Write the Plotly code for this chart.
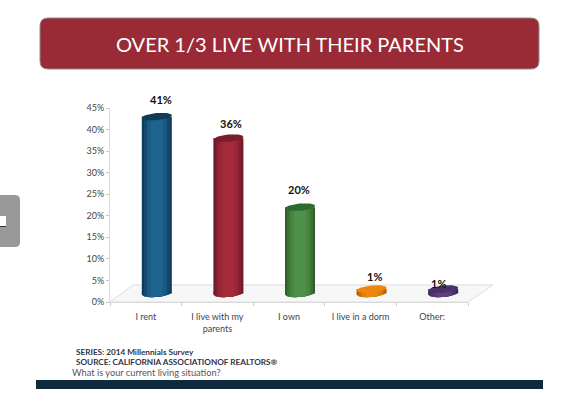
import numpy as np
import plotly.graph_objects as go

W, H = 566, 393
categories = ["I rent", "I live with my<br>parents", "I own", "I live in a dorm", "Other:"]
values = [41, 36, 20, 1, 1]
labels = ["41%", "36%", "20%", "1%", "1%"]
y_ticks = [0, 5, 10, 15, 20, 25, 30, 35, 40, 45]
y_tick_labels = [f"{v}%" for v in y_ticks]
title = "OVER 1/3 LIVE WITH THEIR PARENTS"
notes = ["SERIES: 2014 Millennials Survey", "SOURCE: CALIFORNIA ASSOCIATIONOF REALTORS®"]
question = "What is your current living situation?"

# styling
shades = [
    ["#0d3a58", "#14486e", "#1a5a85", "#1f6391"],
    ["#6e1a27", "#841f2f", "#982636", "#a52a3a"],
    ["#2f5e2a", "#3b7335", "#478540", "#4f9048"],
    ["#b35f00", "#d06f00", "#e07f05", "#e8880f"],
    ["#3a2655", "#4a3169", "#553a78", "#5d4082"],
]
caps = ["#0f3b59", "#7a1c2a", "#2e6a2e", "#ec860e", "#4a3268"]
layer_fracs = [1.0, 0.86, 0.66, 0.4]
label_dx = [4, 3, -1, 3, -5]
label_dy = [17, 15, 18, 13, 6]

L, R, Y0, Y45 = 110, 468, 302, 108
px_per_cat = (R - L) / 5
px_per_pct = (Y0 - Y45) / 45
depth_base = 2          # 3D depth lift of the bars in axis units
depth_x = 11 / px_per_cat
bar_w = 30 / px_per_cat
b_y = 3.6 / px_per_pct
tilt = 1.3 / px_per_pct


def px(x):
    return x / W


def py(y):
    return 1 - y / H


fig = go.Figure()
xs = list(range(len(categories)))

# cylinder bodies: narrowing overlays give the shading
for frac_i, frac in enumerate(layer_fracs):
    fig.add_trace(go.Bar(
        x=[x + depth_x for x in xs], y=values, base=depth_base,
        width=bar_w * frac,
        marker=dict(color=[s[frac_i] for s in shades], line_width=0),
        hoverinfo="skip", showlegend=False,
    ))

# rounded lower ends and top caps
t = np.linspace(0, 2 * np.pi, 60)
for i, (x, v) in enumerate(zip(xs, values)):
    cx = x + depth_x
    for frac_i, frac in enumerate(layer_fracs):
        u = np.linspace(-1, 1, 30) * frac
        ex = cx + u * bar_w / 2
        ey = depth_base + u * tilt - b_y * np.sqrt(1 - u ** 2)
        fig.add_trace(go.Scatter(
            x=np.r_[ex, ex[::-1]], y=np.r_[ey, np.full(30, depth_base + 0.3)],
            mode="lines", line_width=0, fill="toself",
            fillcolor=shades[i][frac_i], hoverinfo="skip", showlegend=False,
        ))
    fig.add_trace(go.Scatter(
        x=cx + bar_w / 2 * np.cos(t),
        y=depth_base + v + b_y * np.sin(t) + tilt * np.cos(t),
        mode="lines", line_width=0, fill="toself",
        fillcolor=caps[i], hoverinfo="skip", showlegend=False,
    ))

annotations = []
for i, (x, v) in enumerate(zip(xs, values)):
    annotations.append(dict(
        x=x + depth_x, y=depth_base + v, text=f"<b>{labels[i]}</b>", showarrow=False,
        xshift=label_dx[i], yshift=label_dy[i], xanchor="center", yanchor="middle",
        font=dict(family="Lato", size=11, color="#111111"),
    ))


def paper_text(x, y, text, size, color, anchor="left", family="Lato"):
    annotations.append(dict(
        xref="paper", yref="paper", x=px(x), y=py(y), text=text, showarrow=False,
        xanchor=anchor, yanchor="middle", font=dict(family=family, size=size, color=color),
    ))


paper_text(290, 44, title, 20, "#ffffff", "center")
paper_text(74, 352, f"<b>{notes[0]}</b>", 8.2, "#333344")
paper_text(74, 362, f"<b>{notes[1]}</b>", 8.2, "#333344")
paper_text(70, 372.5, question, 9.25, "#555566")


def rrect(x0, y0, x1, y1, r, left=True):
    X0, X1, Y0_, Y1_ = px(x0), px(x1), py(y0), py(y1)
    rx, ry = r / W, r / H
    if left:
        return (f"M {X0+rx} {Y0_} L {X1-rx} {Y0_} Q {X1} {Y0_} {X1} {Y0_-ry} L {X1} {Y1_+ry} "
                f"Q {X1} {Y1_} {X1-rx} {Y1_} L {X0+rx} {Y1_} Q {X0} {Y1_} {X0} {Y1_+ry} "
                f"L {X0} {Y0_-ry} Q {X0} {Y0_} {X0+rx} {Y0_} Z")
    return (f"M {X0} {Y0_} L {X1-rx} {Y0_} Q {X1} {Y0_} {X1} {Y0_-ry} L {X1} {Y1_+ry} "
            f"Q {X1} {Y1_} {X1-rx} {Y1_} L {X0} {Y1_} Z")


def poly(pts):
    return "M " + " L ".join(f"{px(a)} {py(b)}" for a, b in pts) + " Z"


shapes = [
    dict(type="path", xref="paper", yref="paper", path=rrect(40, 18, 539, 69, 8),
         fillcolor="#9b2a37", line=dict(color="#8c8c8c", width=1)),
    dict(type="path", xref="paper", yref="paper", path=rrect(-2, 195, 20, 247, 5, left=False),
         fillcolor="#999999", line_width=0),
    dict(type="rect", xref="paper", yref="paper", x0=px(0), x1=px(6), y0=py(216), y1=py(226),
         fillcolor="#ffffff", line_width=0),
    dict(type="rect", xref="paper", yref="paper", x0=px(0), x1=px(6), y0=py(226), y1=py(227),
         fillcolor="#333333", line_width=0),
    dict(type="rect", xref="paper", yref="paper", x0=px(36), x1=px(543), y0=py(380), y1=py(389),
         fillcolor="#0f2a3d", line_width=0),
    dict(type="path", xref="paper", yref="paper", layer="below",
         path=poly([(L, Y0), (133, 285), (493, 285), (R, Y0)]),
         fillcolor="#f7f7f7", line=dict(color="#dddddd", width=1)),
]

fig.update_layout(
    width=W, height=H, autosize=False,
    margin=dict(l=0, r=0, t=0, b=0),
    paper_bgcolor="#ffffff", plot_bgcolor="rgba(0,0,0,0)",
    barmode="overlay", showlegend=False,
    font=dict(family="Lato", size=9, color="#444444"),
    shapes=shapes, annotations=annotations,
    xaxis=dict(
        domain=[px(L), px(R)], range=[-0.5, 4.5], tickmode="array", automargin=False,
        tickvals=xs, ticktext=categories, ticks="", showgrid=False, zeroline=False,
        showline=True, linecolor="#d9d9d9", linewidth=1, ticklabelstandoff=6,
        tickfont=dict(family="Lato", size=9, color="#444444"),
        minor=dict(tickmode="array", tickvals=[x + 0.5 for x in [-1] + xs], ticks="outside",
                   ticklen=3, tickcolor="#c8c8c8", showgrid=False),
    ),
    yaxis=dict(
        domain=[py(Y0), py(Y45)], range=[0, 45], tickmode="array", automargin=False,
        tickvals=y_ticks, ticktext=y_tick_labels, ticks="outside", ticklen=3,
        tickcolor="#c8c8c8", showgrid=False, zeroline=False,
        showline=True, linecolor="#d9d9d9", linewidth=1,
        tickfont=dict(family="Lato", size=9, color="#444444"),
    ),
)

fig.write_html("out.html", config={"displayModeBar": False},
               post_script="document.body.style.margin='0';")
